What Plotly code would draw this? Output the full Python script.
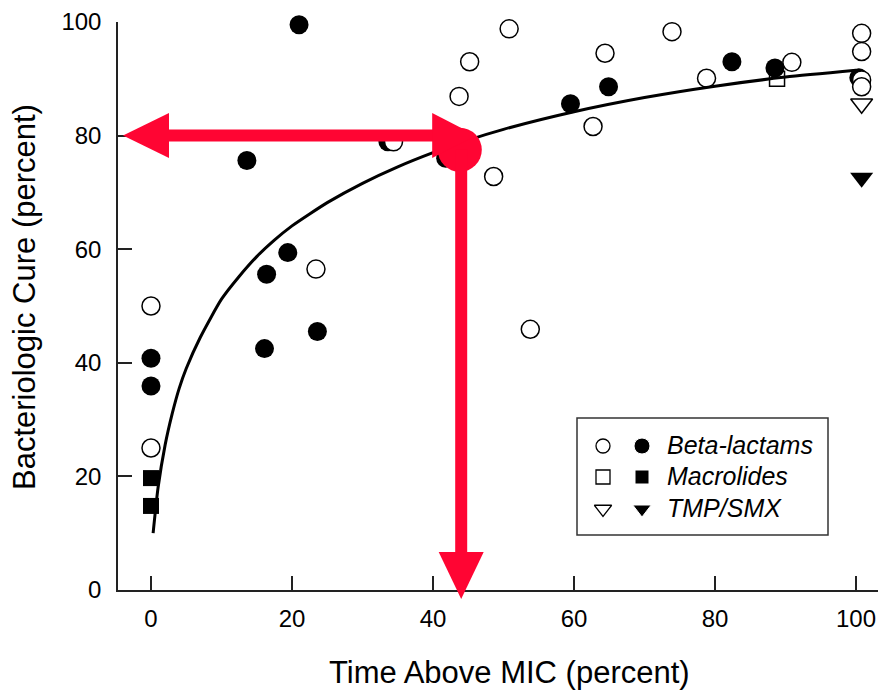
import plotly.graph_objects as go

# ---------------- data ----------------
beta_open_x = [0, 0, 23.4, 34.4, 43.7, 45.2, 50.8, 48.6, 53.8, 62.7, 64.4, 73.9, 78.8, 90.9, 100.8, 100.8, 100.8, 100.8]
beta_open_y = [50, 25, 56.5, 78.9, 86.9, 93.0, 98.8, 72.8, 45.9, 81.6, 94.5, 98.3, 90.1, 92.9, 98.0, 94.8, 89.8, 88.6]

beta_filled_x = [0, 0, 13.6, 21.0, 19.4, 16.4, 16.1, 23.6, 33.6, 41.8, 59.5, 64.9, 82.4, 88.5, 100.4]
beta_filled_y = [40.8, 35.9, 75.6, 99.5, 59.4, 55.6, 42.5, 45.5, 78.9, 76.0, 85.6, 88.6, 93.0, 91.9, 90.2]

macro_open_x = [88.8]
macro_open_y = [90.0]
macro_filled_x = [0, 0]
macro_filled_y = [19.7, 14.8]

tmp_open_x = [100.8]
tmp_open_y = [85.6]
tmp_filled_x = [100.8]
tmp_filled_y = [72.6]

curve_x = [0.3, 1, 2, 3, 4, 5, 7, 10, 12.5, 15, 17.5, 20, 22.5, 25, 30, 35, 40, 45, 50, 60, 70, 80, 90, 100]
curve_y = [10, 18, 25.5, 31, 35.5, 39, 44.5, 51.2, 55.2, 58.7, 61.6, 64.1, 66.2, 68.2, 71.6, 74.5, 77.0,
           79.2, 81.1, 84.2, 86.7, 88.7, 90.3, 91.5]

target_x = 44      # time above MIC pointed at
target_y = 80      # cure pointed at
dot_x, dot_y = 43.8, 77.5

tick_vals = [0, 20, 40, 60, 80, 100]
tick_text = ["0", "20", "40", "60", "80", "100"]

legend_labels = ["Beta-lactams", "Macrolides", "TMP/SMX"]
legend_symbols = ["circle", "square", "triangle-down"]

# ---------------- layout constants ----------------
W, H = 881, 692
PL, PR, PT, PB = 118, 878, 22, 590
X0, X1 = -4.68, 103.12
Y0, Y1 = 0, 100
RED = "#ff0533"
FONT = "Liberation Sans, Arial, Helvetica, sans-serif"
PW = PR - PL
PH = PB - PT


def px_x(v):   # data -> paper
    return (v - X0) / (X1 - X0)


def px_y(v):
    return (v - Y0) / (Y1 - Y0)


def ppx(px):   # pixel x -> paper
    return (px - PL) / PW


def ppy(py):   # pixel y -> paper
    return (PB - py) / PH


def pix_to_data_x(px):
    return X0 + (px - PL) / PW * (X1 - X0)


def pix_to_data_y(py):
    return Y0 + (PB - py) / PH * (Y1 - Y0)


fig = go.Figure()

mk_line = dict(color="black", width=1.5)
fig.add_trace(go.Scatter(x=macro_filled_x, y=macro_filled_y, mode="markers",
                         marker=dict(symbol="square", size=16, color="black"), cliponaxis=False))
fig.add_trace(go.Scatter(x=macro_open_x, y=macro_open_y, mode="markers",
                         marker=dict(symbol="square", size=15, color="white", line=mk_line), cliponaxis=False))
fig.add_trace(go.Scatter(x=beta_filled_x, y=beta_filled_y, mode="markers",
                         marker=dict(symbol="circle", size=19, color="black"), cliponaxis=False))
fig.add_trace(go.Scatter(x=beta_open_x, y=beta_open_y, mode="markers",
                         marker=dict(symbol="circle", size=18, color="white", line=mk_line), cliponaxis=False))
fig.add_trace(go.Scatter(x=tmp_open_x, y=tmp_open_y, mode="markers",
                         marker=dict(symbol="triangle-down", size=19, color="white", line=mk_line), cliponaxis=False))
fig.add_trace(go.Scatter(x=tmp_filled_x, y=tmp_filled_y, mode="markers",
                         marker=dict(symbol="triangle-down", size=20, color="black"), cliponaxis=False))
fig.add_trace(go.Scatter(x=curve_x, y=curve_y, mode="lines",
                         line=dict(color="black", width=3, shape="spline", smoothing=0.6), cliponaxis=False))
fig.add_trace(go.Scatter(x=[dot_x], y=[dot_y], mode="markers",
                         marker=dict(symbol="circle", size=44, color=RED), cliponaxis=False))

# legend key markers (positions derived from legend box pixel layout)
row_py = [446, 477, 509]
row_y = [pix_to_data_y(p) for p in row_py]
fig.add_trace(go.Scatter(x=[pix_to_data_x(603)] * 3, y=row_y, mode="markers",
                         marker=dict(symbol=legend_symbols, size=[14, 14, 15], color="white", opacity=1,
                                     line=dict(color="black", width=1.3)), cliponaxis=False))
fig.add_trace(go.Scatter(x=[pix_to_data_x(642)] * 3, y=row_y, mode="markers",
                         marker=dict(symbol=legend_symbols, size=[16, 14, 16], color="black", opacity=1),
                         cliponaxis=False))

shapes = []
# legend box
shapes.append(dict(type="rect", xref="paper", yref="paper",
                   x0=ppx(577), x1=ppx(828), y0=ppy(535), y1=ppy(418),
                   line=dict(color="#333", width=1.5), fillcolor="rgba(0,0,0,0)", layer="below"))

# red arrows (paper coords so they are not clipped)
LW = 12
HEAD_L = 46
HEAD_W = 45
ty = px_y(target_y)
tx = px_x(target_x)
left_tip = ppx(123)
hx = HEAD_L / PW
hy = HEAD_W / 2 / PH
shapes.append(dict(type="line", xref="paper", yref="paper", x0=left_tip + hx * 0.8, x1=tx,
                   y0=ty, y1=ty, line=dict(color=RED, width=LW)))
shapes.append(dict(type="path", xref="paper", yref="paper",
                   path=f"M {left_tip},{ty} L {left_tip + hx},{ty + hy} L {left_tip + hx},{ty - hy} Z",
                   fillcolor=RED, line=dict(color=RED, width=0)))
rb = tx - 29 / PW
shapes.append(dict(type="path", xref="paper", yref="paper",
                   path=f"M {rb + hx * 0.95},{ty} L {rb},{ty + hy} L {rb},{ty - hy} Z",
                   fillcolor=RED, line=dict(color=RED, width=0)))
vx = px_x(target_x)
bottom_tip = ppy(599)
vh = 47 / PH
vw = HEAD_W / 2 / PW
shapes.append(dict(type="line", xref="paper", yref="paper", x0=vx, x1=vx,
                   y0=px_y(dot_y), y1=bottom_tip + vh * 0.8, line=dict(color=RED, width=LW)))
shapes.append(dict(type="path", xref="paper", yref="paper",
                   path=f"M {vx},{bottom_tip} L {vx - vw},{bottom_tip + vh} L {vx + vw},{bottom_tip + vh} Z",
                   fillcolor=RED, line=dict(color=RED, width=0)))

annotations = []
for lab, yy in zip(legend_labels, row_py):
    annotations.append(dict(xref="paper", yref="paper", x=ppx(665), y=ppy(yy - 1), text=lab,
                            showarrow=False, xanchor="left", yanchor="middle",
                            font=dict(family=FONT, size=25, color="black", style="italic")))
annotations.append(dict(xref="paper", yref="paper", x=ppx(509), y=ppy(672),
                        text="Time Above MIC (percent)", showarrow=False,
                        xanchor="center", yanchor="middle",
                        font=dict(family=FONT, size=31, color="black")))
annotations.append(dict(xref="paper", yref="paper", x=ppx(24), y=ppy(297),
                        text="Bacteriologic Cure (percent)", showarrow=False, textangle=-90,
                        xanchor="center", yanchor="middle",
                        font=dict(family=FONT, size=31, color="black")))

axis_common = dict(showline=True, linecolor="#222", linewidth=1.5, ticks="inside", ticklen=14,
                   tickwidth=1.5, tickcolor="#222", showgrid=False, zeroline=False,
                   tickfont=dict(family=FONT, size=24, color="black"))

fig.update_layout(
    width=W, height=H,
    margin=dict(l=PL, r=W - PR, t=PT, b=H - PB, pad=0),
    paper_bgcolor="white", plot_bgcolor="white",
    showlegend=False,
    xaxis=dict(range=[X0, X1], tickvals=tick_vals, ticktext=tick_text, ticklabelstandoff=6,
               **axis_common),
    yaxis=dict(range=[Y0, Y1], tickvals=tick_vals, ticktext=tick_text, ticklabelstandoff=10,
               **axis_common),
    shapes=shapes,
    annotations=annotations,
)

fig.write_html("out.html")
